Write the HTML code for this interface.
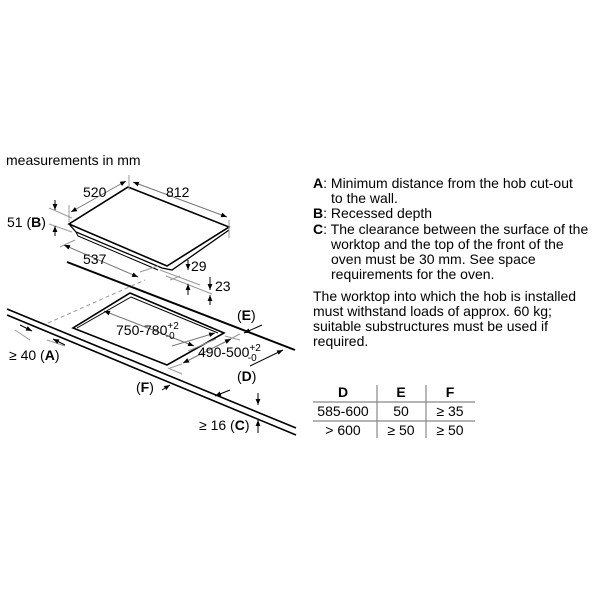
<!DOCTYPE html>
<html><head><style>
html,body{margin:0;padding:0;background:#fff;}
svg{display:block;}
text{font-family:"Liberation Sans",Arial,sans-serif;fill:#000;}
</style></head><body>
<svg width="600" height="600" viewBox="0 0 600 600" xmlns="http://www.w3.org/2000/svg">
<defs>
<marker id="a" viewBox="0 0 10 10" refX="10" refY="5" markerWidth="6" markerHeight="6" orient="auto-start-reverse"><path d="M0,1 L10,5 L0,9 z" fill="#000"/></marker>
</defs>
<text x="6" y="165" font-size="14">measurements in mm</text>

<g fill="none" stroke="#000">
<path d="M128,187 L229,227 L167,266 L69,224 Z" stroke-width="1.6"/>
<path d="M69,224 L76,232 L162,268 L172,270 L229,230" stroke-width="1.3"/>
<path d="M76,232 L78,236 L158,270" stroke-width="1"/>
<path d="M67,262 L295,350" stroke-width="2"/>
<path d="M7,309 L296,428" stroke-width="1.6"/>
<path d="M7,315 L296,435" stroke-width="1.6"/>
<path d="M130,293 L224,333 L167,365 L73,328 Z" stroke-width="1.6"/>
<path d="M77,328 L131,297 L218,333" stroke-width="1"/>
</g>
<path d="M48,323 L145,280" stroke="#999" stroke-dasharray="4,3" fill="none"/>

<g stroke="#999" stroke-width="1" fill="none">
<path d="M129,175 L129,190"/>
<path d="M69,205 L69,222"/>
<path d="M229,220 L229,238"/>
<path d="M49,208 L72,218 M49,224 L72,232"/>
<path d="M60,247 L75,240"/>
<path d="M140,272 L158,266"/>
<path d="M160,270 L200,285 M166,276 L212,294"/>
<path d="M170,280 L180,276"/>
<path d="M15,330 L30,340 M47,340 L65,346"/>
<path d="M228,340 L240,334"/>
<path d="M170,368 L182,364"/>
<path d="M225,336 L240,340 M168,368 L182,374"/>
<path d="M188,351 L216,339"/>
</g>
<g stroke="#777" stroke-width="1" fill="none" marker-start="url(#a)" marker-end="url(#a)">
<path d="M71,212 L126,181"/>
<path d="M133,182 L227,217"/>
<path d="M64,245 L138,277"/>
<path d="M172,346 L215,333" marker-start="none"/>
<path d="M183,363 L231,339"/>
<path d="M104,311 L194,346"/>
</g>
<g stroke="#000" stroke-width="1" fill="none" marker-end="url(#a)">
<path d="M55,200 L55,210"/>
<path d="M55,236 L55,226"/>
<path d="M188,260 L188,270"/>
<path d="M188,295 L188,284"/>
<path d="M210,277 L210,290"/>
<path d="M210,305 L210,295"/>
<path d="M20,325 L32,331"/>
<path d="M65,345 L53,339"/>
<path d="M262,325 L244,333"/>
<path d="M162,390 L170,385"/>
<path d="M230,390 L215,396"/>
<path d="M258,393 L258,405"/>
<path d="M258,433 L258,420"/>
<path d="M250,366 L283,350"/>
</g>
<g font-size="14">
<text x="83" y="197">520</text>
<text x="166" y="197">812</text>
<text x="7" y="227">51 (<tspan font-weight="bold">B</tspan>)</text>
<text x="83" y="264">537</text>
<text x="191" y="271">29</text>
<text x="215" y="291">23</text>
<text x="116" y="335">750-780<tspan font-size="10" dy="-6">+2</tspan><tspan font-size="10" dx="-13" dy="10">-0</tspan></text>
<text x="198" y="357">490-500<tspan font-size="10" dy="-6">+2</tspan><tspan font-size="10" dx="-13" dy="10">-0</tspan></text>
<text x="237" y="320">(<tspan font-weight="bold">E</tspan>)</text>
<text x="237" y="381">(<tspan font-weight="bold">D</tspan>)</text>
<text x="136" y="392">(<tspan font-weight="bold">F</tspan>)</text>
<text x="9" y="360">≥ 40 (<tspan font-weight="bold">A</tspan>)</text>
<text x="199" y="430">≥ 16 (<tspan font-weight="bold">C</tspan>)</text>
</g>

<g font-size="14">
<text x="313" y="188"><tspan font-weight="bold">A</tspan>: Minimum distance from the hob cut-out</text>
<text x="331" y="203">to the wall.</text>
<text x="313" y="218"><tspan font-weight="bold">B</tspan>: Recessed depth</text>
<text x="313" y="234"><tspan font-weight="bold">C</tspan>: The clearance between the surface of the</text>
<text x="331" y="249">worktop and the top of the front of the</text>
<text x="331" y="264">oven must be 30 mm. See space</text>
<text x="331" y="279">requirements for the oven.</text>
<text x="313" y="301">The worktop into which the hob is installed</text>
<text x="313" y="316">must withstand loads of approx. 60 kg;</text>
<text x="313" y="331">suitable substructures must be used if</text>
<text x="313" y="346">required.</text>
</g>
<g stroke="#888" stroke-width="1.2">
<path d="M313,402 L475,402 M313,421 L475,421 M377,385 L377,438 M426,385 L426,438"/>
</g>
<g font-size="14" text-anchor="middle">
<text x="343" y="397" font-weight="bold">D</text>
<text x="401" y="397" font-weight="bold">E</text>
<text x="450" y="397" font-weight="bold">F</text>
<text x="343" y="416">585-600</text>
<text x="401" y="416">50</text>
<text x="450" y="416">≥ 35</text>
<text x="343" y="435">&gt; 600</text>
<text x="401" y="435">≥ 50</text>
<text x="450" y="435">≥ 50</text>
</g>
</svg>
</body></html>
